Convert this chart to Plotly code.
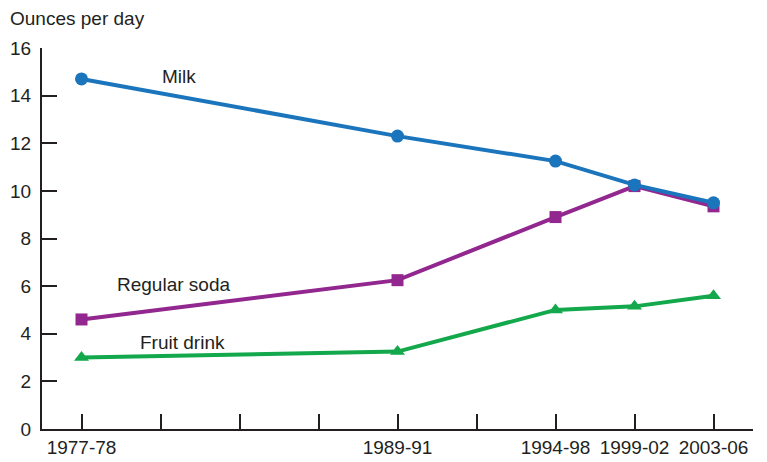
import plotly.graph_objects as go

# Survey periods and their positions on an evenly ticked axis
periods = ["1977-78", "1989-91", "1994-98", "1999-02", "2003-06"]
period_pos = [0, 4, 6, 7, 8]

# Ounces per day
milk = [14.7, 12.3, 11.25, 10.25, 9.5]
regular_soda = [4.6, 6.25, 8.9, 10.2, 9.35]
fruit_drink = [3.0, 3.25, 5.0, 5.15, 5.6]

y_ticks = [0, 2, 4, 6, 8, 10, 12, 14, 16]

W, H = 767, 462
L, R, T, B = 42, 14, 48, 33
FONT = "Liberation Sans, Arial, sans-serif"
TXT = "#231f20"
FS = 19

fig = go.Figure()

series = [
    ("Fruit drink", fruit_drink, "#12a84b", "triangle-up", 13),
    ("Regular soda", regular_soda, "#92278f", "square", 12),
    ("Milk", milk, "#1b75bc", "circle", 13),
]
for name, vals, color, sym, size in series:
    fig.add_trace(go.Scatter(
        x=period_pos, y=vals, name=name, mode="lines+markers",
        line=dict(color=color, width=4),
        marker=dict(symbol=sym, size=size, color=color),
        showlegend=False, cliponaxis=False,
    ))

# Series labels placed next to their lines
labels = [("Milk", 1.24, 14.8), ("Regular soda", 1.16, 6.05), ("Fruit drink", 1.28, 3.65)]
for text, x, y in labels:
    fig.add_annotation(x=x, y=y, text=text, showarrow=False, xref="x", yref="y",
                       font=dict(size=FS, color=TXT, family=FONT))

plot_w = W - L - R
fig.add_annotation(text="Ounces per day", xref="paper", yref="paper",
                   x=(8 - L) / plot_w, y=1 + (T - 19) / (H - T - B),
                   xanchor="left", yanchor="middle", showarrow=False,
                   font=dict(size=FS, color=TXT, family=FONT))

tick_vals = list(range(0, 9))
tick_text = [periods[period_pos.index(v)] if v in period_pos else "" for v in tick_vals]

fig.update_xaxes(
    range=[-0.5, 8.5], tickmode="array", tickvals=tick_vals, ticktext=tick_text,
    ticks="inside", ticklen=15, tickwidth=2, tickcolor=TXT,
    showline=True, linecolor=TXT, linewidth=2, showgrid=False, zeroline=False,
    tickfont=dict(size=FS, color=TXT, family=FONT), automargin=False,
)
fig.update_yaxes(
    range=[0, 16], tickmode="array", tickvals=y_ticks,
    ticks="inside", ticklen=15, tickwidth=2, tickcolor=TXT,
    showline=True, linecolor=TXT, linewidth=2, showgrid=False, zeroline=False,
    tickfont=dict(size=FS, color=TXT, family=FONT), ticklabelstandoff=5,
    automargin=False,
)

fig.update_layout(
    width=W, height=H, margin=dict(l=L, r=R, t=T, b=B),
    paper_bgcolor="white", plot_bgcolor="white",
    font=dict(family=FONT, color=TXT),
)

fig.write_html("out.html")
